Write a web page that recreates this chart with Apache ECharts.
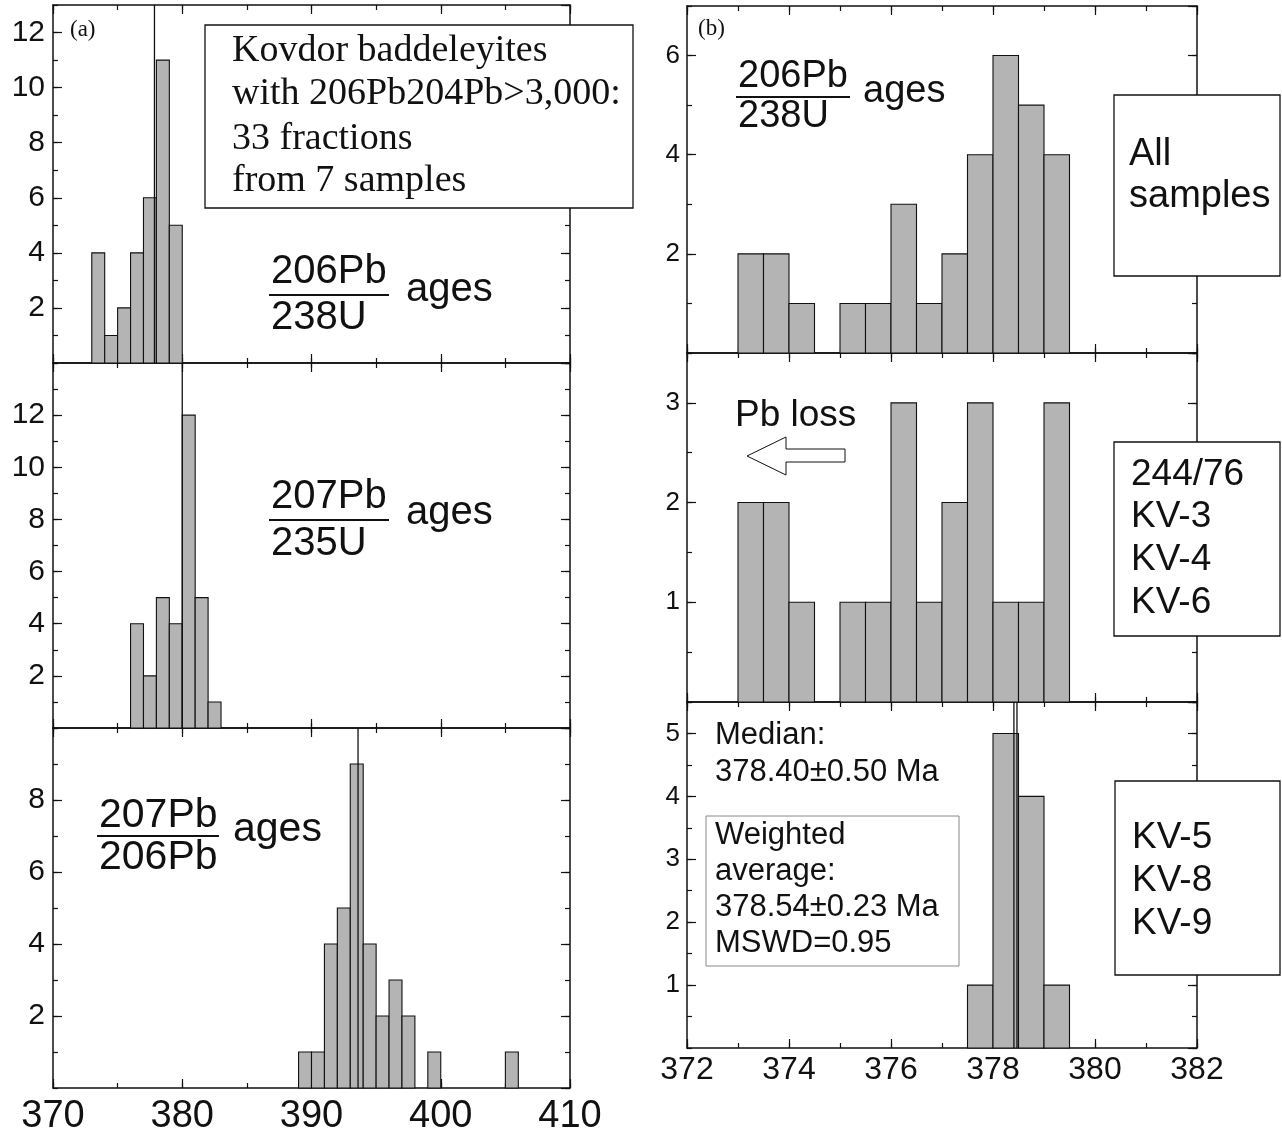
<!DOCTYPE html>
<html><head><meta charset="utf-8">
<script src="https://cdn.jsdelivr.net/npm/echarts@6/dist/echarts.min.js"></script>
<style>html,body{margin:0;padding:0;background:#fff}#c{width:1282px;height:1135px}</style>
</head><body><div id="c"></div>
<script>
// ---------------- data ----------------
// panel (a): bin width 1 Ma
const binWidthA = 1;
const a1Starts = [373, 374, 375, 376, 377, 378, 379];
const a1Counts = [4, 1, 2, 4, 6, 11, 5];
const a1Lines = [377.85];
const a2Starts = [376, 377, 378, 379, 380, 381, 382];
const a2Counts = [4, 2, 5, 4, 12, 5, 1];
const a2Lines = [380.0];
const a3Starts = [389, 390, 391, 392, 393, 394, 395, 396, 397, 399, 405];
const a3Counts = [1, 1, 4, 5, 9, 4, 2, 3, 2, 1, 1];
const a3Lines = [393.6];
// panel (b): bin width 0.5 Ma
const binWidthB = 0.5;
const b1Starts = [373, 373.5, 374, 375, 375.5, 376, 376.5, 377, 377.5, 378, 378.5, 379];
const b1Counts = [2, 2, 1, 1, 1, 3, 1, 2, 4, 6, 5, 4];
const b2Starts = [373, 373.5, 374, 375, 375.5, 376, 376.5, 377, 377.5, 378, 378.5, 379];
const b2Counts = [2, 2, 1, 1, 1, 3, 1, 2, 3, 1, 1, 3];
const b3Starts = [377.5, 378, 378.5, 379];
const b3Counts = [1, 5, 4, 1];
const b3Lines = [378.41, 378.47];
// axis ranges / ticks
const xRangeA = [370, 410], xTicksA = [10, 5];
const xRangeB = [372, 382], xTicksB = [2, 1];
const yRanges = { a1: [0, 13], a2: [0, 14], a3: [0, 10], b1: [0, 7], b2: [0, 3.5], b3: [0, 5.5] };
const yTicks = { a1: [2, 1], a2: [2, 1], a3: [2, 1], b1: [2, 1], b2: [1, 0.5], b3: [1, 0.5] };

// ---------------- layout ----------------
const SANS = '"Liberation Sans", Arial, sans-serif';
const SERIF = '"Liberation Serif", "Times New Roman", serif';
const panels = [
  { id: 'a1', rect: [53, 5, 517, 358], xr: xRangeA, xt: xTicksA, starts: a1Starts, counts: a1Counts, w: binWidthA, lines: a1Lines, xLab: false, yFont: 30, xFont: 38, yMargin: 8, xMargin: 10 },
  { id: 'a2', rect: [53, 363, 517, 365], xr: xRangeA, xt: xTicksA, starts: a2Starts, counts: a2Counts, w: binWidthA, lines: a2Lines, xLab: false, yFont: 30, xFont: 38, yMargin: 8, xMargin: 10 },
  { id: 'a3', rect: [53, 728, 517, 360], xr: xRangeA, xt: xTicksA, starts: a3Starts, counts: a3Counts, w: binWidthA, lines: a3Lines, xLab: true, yFont: 30, xFont: 38, yMargin: 8, xMargin: 10 },
  { id: 'b1', rect: [687, 6, 510, 347], xr: xRangeB, xt: xTicksB, starts: b1Starts, counts: b1Counts, w: binWidthB, lines: [], xLab: false, yFont: 26, xFont: 32, yMargin: 7, xMargin: 6 },
  { id: 'b2', rect: [687, 353, 510, 349], xr: xRangeB, xt: xTicksB, starts: b2Starts, counts: b2Counts, w: binWidthB, lines: [], xLab: false, yFont: 26, xFont: 32, yMargin: 7, xMargin: 6 },
  { id: 'b3', rect: [687, 702, 510, 346], xr: xRangeB, xt: xTicksB, starts: b3Starts, counts: b3Counts, w: binWidthB, lines: b3Lines, xLab: true, yFont: 26, xFont: 32, yMargin: 7, xMargin: 6 }
];

const grids = [], xAxes = [], yAxes = [], series = [];
const black = '#111';
function axisBase(gi, pos, range, interval, tickLen, showLine, label) {
  return {
    type: 'value', gridIndex: gi, position: pos, min: range[0], max: range[1], interval: interval,
    axisLine: { show: showLine, onZero: false, lineStyle: { color: black, width: 1.5 } },
    axisTick: { show: true, inside: true, length: tickLen, lineStyle: { color: black, width: 1.2 } },
    splitLine: { show: false },
    axisLabel: label || { show: false }
  };
}
panels.forEach((p, gi) => {
  grids.push({ left: p.rect[0], top: p.rect[1], width: p.rect[2], height: p.rect[3], outerBoundsMode: 'none', containLabel: false });
  const yr = yRanges[p.id], yt = yTicks[p.id];
  const xLabel = p.xLab ? { show: true, margin: p.xMargin, fontFamily: SANS, fontSize: p.xFont, color: black, showMinLabel: true, showMaxLabel: true } : { show: false };
  const yLabel = { show: true, margin: p.yMargin, fontFamily: SANS, fontSize: p.yFont, color: black, showMinLabel: false, showMaxLabel: false };
  const xMain = xAxes.length;
  xAxes.push(axisBase(gi, 'bottom', p.xr, p.xt[0], 9, true, xLabel));
  xAxes.push(axisBase(gi, 'bottom', p.xr, p.xt[1], 5, false));
  xAxes.push(axisBase(gi, 'top', p.xr, p.xt[0], 9, true));
  xAxes.push(axisBase(gi, 'top', p.xr, p.xt[1], 5, false));
  const yMain = yAxes.length;
  yAxes.push(axisBase(gi, 'left', yr, yt[0], 9, true, yLabel));
  yAxes.push(axisBase(gi, 'left', yr, yt[1], 5, false));
  yAxes.push(axisBase(gi, 'right', yr, yt[0], 9, true));
  yAxes.push(axisBase(gi, 'right', yr, yt[1], 5, false));
  series.push({
    type: 'custom', xAxisIndex: xMain, yAxisIndex: yMain, z: 3,
    encode: { x: [0, 1], y: 2 },
    data: p.starts.map((s, i) => [s, s + p.w, p.counts[i]]),
    renderItem: function (params, api) {
      const p0 = api.coord([api.value(0), api.value(2)]);
      const p1 = api.coord([api.value(1), 0]);
      return { type: 'rect', shape: { x: p0[0], y: p0[1], width: p1[0] - p0[0], height: p1[1] - p0[1] },
        style: { fill: '#b4b4b4', stroke: black, lineWidth: 1.1 } };
    }
  });
  p.lines.forEach(v => {
    series.push({ type: 'line', xAxisIndex: xMain, yAxisIndex: yMain, z: 5, symbol: 'none', silent: true,
      data: [[v, yr[0]], [v, yr[1]]], lineStyle: { color: black, width: 1.3 } });
  });
});

// ---------------- annotations ----------------
function txt(x, y, text, size, font, align) {
  return { type: 'text', z: 100, style: { x: x, y: y, text: text, font: size + 'px ' + (font || SANS), fill: black, textAlign: align || 'left', textVerticalAlign: 'middle' } };
}
function hline(x1, x2, y) {
  return { type: 'line', z: 100, shape: { x1: x1, y1: y, x2: x2, y2: y }, style: { stroke: black, lineWidth: 2 } };
}
function box(x, y, w, h, stroke, lw) {
  return { type: 'rect', z: 99, shape: { x: x, y: y, width: w, height: h }, style: { fill: '#fff', stroke: stroke || black, lineWidth: lw || 1.3 } };
}
function fraction(x, numY, lineY, denY, num, den, agesX, agesY, size, lineLen) {
  return [txt(x, numY, num, size), hline(x - 2, x + lineLen, lineY), txt(x, denY, den, size), txt(agesX, agesY, 'ages', size)];
}
const graphics = [].concat(
  [txt(70, 30, '(a)', 23, SERIF), txt(698, 29, '(b)', 23, SERIF)],
  [box(205, 25, 428, 183)],
  [txt(232, 51, 'Kovdor baddeleyites', 38, SERIF), txt(232, 94, 'with 206Pb204Pb>3,000:', 38, SERIF),
   txt(232, 139, '33 fractions', 38, SERIF), txt(232, 181, 'from 7 samples', 38, SERIF)],
  fraction(271, 272, 295, 318, '206Pb', '238U', 406, 290, 40, 118),
  fraction(271, 497, 520, 544, '207Pb', '235U', 406, 513, 40, 118),
  fraction(99, 816, 836, 858, '207Pb', '206Pb', 233, 830, 41, 120),
  fraction(738, 77, 97, 117, '206Pb', '238U', 863, 92, 38, 112),
  [box(1114, 95, 166, 181), txt(1129, 155, 'All', 38), txt(1129, 197, 'samples', 38)],
  [txt(735, 416, 'Pb loss', 37),
   { type: 'polygon', z: 100, shape: { points: [[845, 449], [786, 449], [786, 437], [747, 456], [786, 475], [786, 462], [845, 462]] }, style: { fill: '#fff', stroke: black, lineWidth: 1 } }],
  [box(1114, 442, 166, 194), txt(1131, 475, '244/76', 37), txt(1131, 517, 'KV-3', 37), txt(1131, 560, 'KV-4', 37), txt(1131, 603, 'KV-6', 37)],
  [txt(715, 735, 'Median:', 31), txt(715, 772, '378.40±0.50 Ma', 31)],
  [box(706, 816, 253, 150, '#888', 1), txt(715, 835, 'Weighted', 31), txt(715, 871, 'average:', 31), txt(715, 907, '378.54±0.23 Ma', 31), txt(715, 943, 'MSWD=0.95', 31)],
  [box(1115, 781, 165, 194), txt(1132, 838, 'KV-5', 37), txt(1132, 881, 'KV-8', 37), txt(1132, 924, 'KV-9', 37)]
);

const chart = echarts.init(document.getElementById('c'), null, { renderer: 'canvas' });
chart.setOption({
  animation: false,
  backgroundColor: '#fff',
  grid: grids, xAxis: xAxes, yAxis: yAxes, series: series,
  graphic: { elements: graphics }
});
</script></body></html>
